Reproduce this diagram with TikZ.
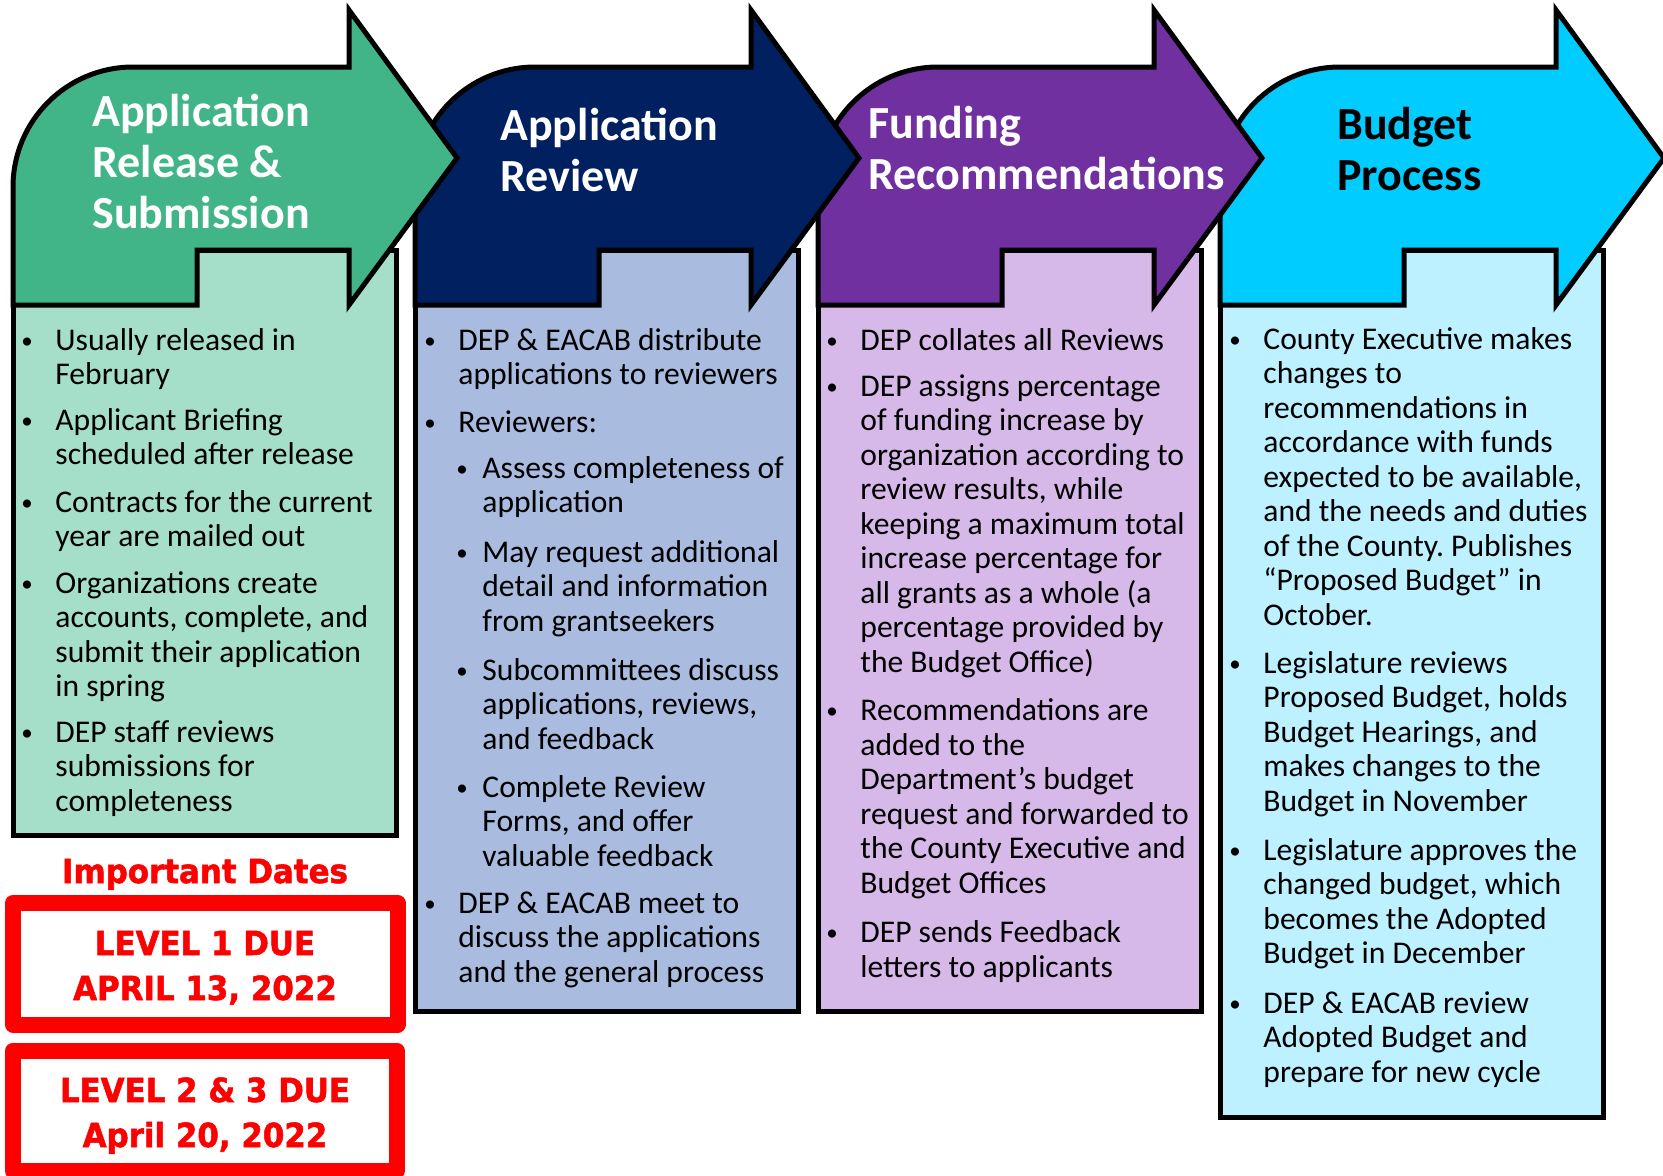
\documentclass[tikz,border=0pt]{standalone}
\usepackage{fontspec}
\setmainfont{Carlito}
\newfontfamily\datefont{DejaVu Sans}[FakeStretch=0.93, BoldFeatures={FakeBold=1.6}]
\frenchspacing

\definecolor{greenhead}{RGB}{65,180,136}
\definecolor{greenbody}{RGB}{166,223,201}
\definecolor{navyhead}{RGB}{0,32,96}
\definecolor{navybody}{RGB}{169,187,223}
\definecolor{purplehead}{RGB}{112,48,160}
\definecolor{purplebody}{RGB}{215,185,233}
\definecolor{cyanhead}{RGB}{0,204,255}
\definecolor{cyanbody}{RGB}{189,241,255}

\newcommand{\smalldot}{\raisebox{1pt}{\fontsize{11.5}{11.5}\selectfont\textbullet}}
\newcommand{\bul}{\llap{\makebox[18pt][l]{\hspace{1pt}\smalldot}}}
\newcommand{\subbul}{\llap{\makebox[14pt][l]{\hspace{1pt}\smalldot}}}

% multi-line nodes sit on the baseline of their last line
\tikzset{
  outline/.style={draw=black, line width=2.5pt, line join=miter},
  title/.style={anchor=base west, align=left, inner sep=0pt, text=white, font=\fontsize{23}{25.5}\selectfont\bfseries},
  item/.style={anchor=base west, align=left, inner sep=0pt, font=\fontsize{15.8}{17.25}\selectfont},
  datebox/.style={draw=red, line width=8pt, line join=round},
  datetext/.style={anchor=base, align=center, inner sep=0pt, text=red, font=\datefont\bfseries\fontsize{16.6}{22.5}\selectfont}
}

\begin{document}
\begin{tikzpicture}[x=0.5pt,y=-0.5pt]
\useasboundingbox (0,0) rectangle (1663,1175);
% bodies under the arrows
\foreach \x/\bc/\yb in {13/greenbody/835,415/navybody/1011,818/purplebody/1011,1220/cyanbody/1117}
  \draw[outline, fill=\bc] (\x,250) rectangle (\x+383,\yb);
% arrows, last one first
\foreach \x/\hc in {1220/cyanhead,818/purplehead,415/navyhead,13/greenhead}
  \draw[outline, fill=\hc] (\x,305) -- (\x,187) .. controls (\x,120.7) and (\x+53.7,67) .. (\x+120,67)
    -- (\x+336,67) -- (\x+336,10) -- (\x+444,158) -- (\x+336,305) -- (\x+336,250)
    -- (\x+184,250) -- (\x+184,305) -- cycle;

\node[title] (t1) at (92,228) {Application\\Release \&\\Submission};
\node[title] (t2) at (500,191) {Application\\Review};
\node[title] (t3) at (868,189) {Funding\\Recommendations};
\node[title, text=black] (t4) at (1337,190) {Budget\\Process};

% column 1
\node[item] (c1a) at (55,384.5) {\bul Usually released in\\February};
\node[item] (c1b) at (55,464.5) {\bul Applicant Briefing\\scheduled after release};
\node[item] (c1c) at (55,546.5) {\bul Contracts for the current\\year are mailed out};
\node[item] (c1d) at (55,696.5) {\bul Organizations create\\accounts, complete, and\\submit their application\\in spring};
\node[item] (c1e) at (55,811) {\bul DEP staff reviews\\submissions for\\completeness};

% column 2
\node[item] (c2a) at (458,384.5) {\bul DEP \& EACAB distribute\\applications to reviewers};
\node[item] (c2b) at (458,432) {\bul Reviewers:};
\node[item] (c2c) at (482,512.5) {\subbul Assess completeness of\\application};
\node[item] (c2d) at (482,631) {\subbul May request additional\\detail and information\\from grantseekers};
\node[item] (c2e) at (482,749) {\subbul Subcommittees discuss\\applications, reviews,\\and feedback};
\node[item] (c2f) at (482,866) {\subbul Complete Review\\Forms, and offer\\valuable feedback};
\node[item] (c2g) at (458,982) {\bul DEP \& EACAB meet to\\discuss the applications\\and the general process};

% column 3
\node[item] (c3a) at (860,350) {\bul DEP collates all Reviews};
\node[item] (c3b) at (860,672) {\bul DEP assigns percentage\\of funding increase by\\organization according to\\review results, while\\keeping a maximum total\\increase percentage for\\all grants as a whole (a\\percentage provided by\\the Budget Office)};
\node[item] (c3c) at (860,893) {\bul Recommendations are\\added to the\\Department’s budget\\request and forwarded to\\the County Executive and\\Budget Offices};
\node[item] (c3d) at (860,977) {\bul DEP sends Feedback\\letters to applicants};

% column 4
\node[item] (c4a) at (1263,625) {\bul County Executive makes\\changes to\\recommendations in\\accordance with funds\\expected to be available,\\and the needs and duties\\of the County. Publishes\\“Proposed Budget” in\\October.};
\node[item] (c4b) at (1263,811) {\bul Legislature reviews\\Proposed Budget, holds\\Budget Hearings, and\\makes changes to the\\Budget in November};
\node[item] (c4c) at (1263,963.5) {\bul Legislature approves the\\changed budget, which\\becomes the Adopted\\Budget in December};
\node[item] (c4d) at (1263,1082) {\bul DEP \& EACAB review\\Adopted Budget and\\prepare for new cycle};

% dates
\node[datetext] (dates) at (205,883) {Important Dates};
\draw[datebox] (13,903) rectangle (397.5,1024.5);
\node[datetext] (lvl1) at (205,1000) {LEVEL 1 DUE\\APRIL 13, 2022};
\draw[datebox] (13,1050.5) rectangle (396.5,1171);
\node[datetext] (lvl2) at (205,1147) {LEVEL 2 \& 3 DUE\\April 20, 2022};
\end{tikzpicture}
\end{document}
